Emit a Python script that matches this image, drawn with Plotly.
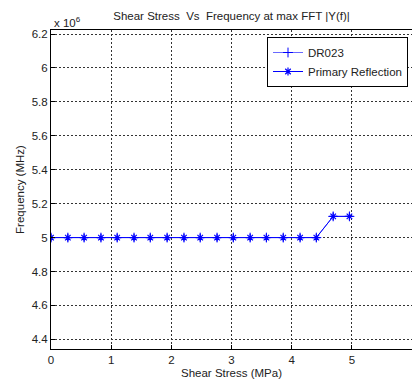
import plotly.graph_objects as go

# Data
shear_stress_mpa = [0.00, 0.28, 0.55, 0.83, 1.10, 1.38, 1.65, 1.93, 2.21, 2.48,
                    2.76, 3.03, 3.31, 3.58, 3.86, 4.14, 4.41, 4.69, 4.96]
freq_hz = [5.0e6] * 17 + [5.125e6, 5.125e6]
scale = 1e6
freq_scaled = [f / scale for f in freq_hz]
series_names = ["DR023", "Primary Reflection"]
title_text = "Shear Stress  Vs  Frequency at max FFT |Y(f)|"
x_title = "Shear Stress (MPa)"
y_title = "Frequency (MHz)"
x_ticks = [0, 1, 2, 3, 4, 5, 6]
y_ticks = [4.4, 4.6, 4.8, 5.0, 5.2, 5.4, 5.6, 5.8, 6.0, 6.2]
y_tick_labels = ["4.4", "4.6", "4.8", "5", "5.2", "5.4", "5.6", "5.8", "6", "6.2"]

W, H = 412, 383
L, R, T, B = 51, 0, 30, 34
PW, PH = W - L - R, H - T - B
FONT = "Liberation Sans, Arial, sans-serif"
TXT = "#222"
BLUE = "#0000ff"

fig = go.Figure()
fig.add_trace(go.Scatter(
    x=shear_stress_mpa, y=freq_scaled, name=series_names[0], mode="lines+markers",
    line=dict(color="#6a6aff", width=1),
    marker=dict(symbol="cross-thin-open", size=7, line=dict(color=BLUE, width=1), color=BLUE),
))
fig.add_trace(go.Scatter(
    x=shear_stress_mpa, y=freq_scaled, name=series_names[1], mode="lines+markers",
    line=dict(color=BLUE, width=1),
    marker=dict(symbol="asterisk-open", size=6.5, line=dict(color=BLUE, width=1.2), color=BLUE),
))

axis_common = dict(
    showline=True, linecolor="black", linewidth=1, mirror=True,
    ticks="inside", ticklen=4, tickcolor="black",
    showgrid=True, gridcolor="#333333", gridwidth=1, griddash="2px,2px",
    zeroline=False, tickfont=dict(family=FONT, size=11.5, color=TXT),
    automargin=False,
)

fig.update_layout(
    width=W, height=H,
    margin=dict(l=L, r=R, t=T, b=B),
    paper_bgcolor="white", plot_bgcolor="white",
    font=dict(family=FONT, size=11.5, color=TXT),
    title=dict(text=title_text, x=0.5, xref="paper", xanchor="center",
               y=1 - 16 / H, yref="container", yanchor="middle",
               font=dict(family=FONT, size=11.5, color=TXT)),
    xaxis=dict(range=[0, 6], tickvals=x_ticks,
               title=dict(text=x_title, font=dict(family=FONT, size=11.5, color=TXT), standoff=4),
               **axis_common),
    yaxis=dict(range=[4.343, 6.224], tickvals=y_ticks, ticktext=y_tick_labels,
               title=dict(text=y_title, font=dict(family=FONT, size=11.5, color=TXT), standoff=4),
               **axis_common),
    legend=dict(x=(408 - L) / PW, y=1 - 7 / PH, xanchor="right", yanchor="top",
                bordercolor="black", borderwidth=1, bgcolor="white",
                font=dict(family=FONT, size=11.5, color=TXT),
                tracegroupgap=0, itemwidth=30),
    showlegend=True,
    annotations=[dict(text="x 10<sup>6</sup>", x=(52 - L) / PW, y=1 + (T - 22) / PH,
                      xref="paper", yref="paper",
                      showarrow=False, xanchor="left", yanchor="middle",
                      font=dict(family=FONT, size=11.5, color=TXT))],
)

fig.write_html("out.html", config={"displayModeBar": False},
               post_script="document.body.style.margin='0';document.body.style.overflow='hidden';")
